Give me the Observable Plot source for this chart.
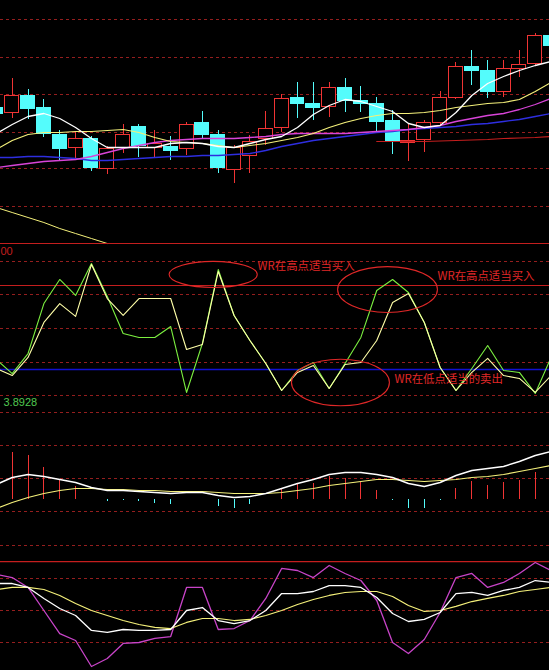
<!DOCTYPE html>
<html><head><meta charset="utf-8">
<script src="https://cdn.jsdelivr.net/npm/d3@7"></script>
<script src="https://cdn.jsdelivr.net/npm/@observablehq/plot@0.6"></script>
<style>
html,body{margin:0;padding:0;background:#000;}
#chart{width:549px;height:670px;overflow:hidden;background:#000;}
#chart svg{display:block;}
</style>
</head><body><div id="chart"></div>
<script>
// ---------- data ----------
const day = [0,1,2,3,4,5,6,7,8,9,10,11,12,13,14,15,16,17,18,19,20,21,22,23,24,25,26,27,28,29,30,31,32,33,34,35];
const open  = [9.86,9.76,10.10,9.86,9.32,9.06,9.24,8.64,9.06,9.48,9.06,9.08,9.04,9.56,9.32,8.62,8.90,9.24,9.46,10.06,9.94,9.88,10.26,10.00,9.94,9.60,9.16,9.22,9.56,10.06,10.68,10.60,10.18,10.64,10.74,11.30];
const close = [9.74,10.10,9.84,9.34,9.04,9.24,8.66,9.04,9.32,9.10,9.14,9.00,9.52,9.32,8.66,9.06,9.18,9.44,10.04,9.94,9.86,10.26,10.00,9.94,9.58,9.20,9.20,9.56,10.06,10.68,10.60,10.18,10.64,10.72,11.30,11.10];
const high  = [9.90,10.44,10.22,10.02,9.40,9.38,9.28,9.08,9.52,9.52,9.40,9.28,9.56,9.78,9.40,9.10,9.30,9.78,10.12,10.36,10.36,10.36,10.44,10.28,10.06,9.80,9.54,9.60,10.18,10.76,11.00,10.80,10.80,11.00,11.34,11.40];
const low   = [9.70,9.64,9.62,9.26,8.80,8.80,8.58,8.52,8.94,8.86,8.86,8.80,8.90,9.24,8.54,8.34,8.54,9.10,9.36,9.64,9.60,9.66,9.76,9.76,9.34,8.92,8.78,8.96,9.48,10.02,10.30,10.04,10.06,10.46,10.70,11.04];

const ma5  = [9.34,9.52,9.68,9.74,9.64,9.46,9.24,9.06,9.06,9.06,9.06,9.14,9.16,9.14,9.08,9.06,9.14,9.22,9.28,9.46,9.72,9.90,10.02,9.98,9.88,9.78,9.54,9.46,9.50,9.76,10.10,10.34,10.48,10.60,10.70,10.78];
const ma10 = [9.02,9.20,9.32,9.36,9.36,9.38,9.38,9.40,9.42,9.36,9.26,9.18,9.16,9.14,9.10,9.06,9.10,9.14,9.20,9.26,9.34,9.46,9.56,9.64,9.70,9.74,9.74,9.76,9.80,9.86,9.90,9.94,9.96,10.02,10.18,10.36];
const ma20 = [8.66,8.70,8.74,8.78,8.80,8.82,8.88,8.96,9.04,9.10,9.16,9.20,9.22,9.24,9.24,9.24,9.26,9.28,9.32,9.34,9.34,9.34,9.34,9.36,9.38,9.40,9.42,9.46,9.50,9.58,9.64,9.70,9.74,9.82,9.92,10.04];
const ma30 = [8.86,8.86,8.88,8.88,8.86,8.84,8.80,8.80,8.82,8.84,8.86,8.88,8.88,8.90,8.90,8.92,8.94,9.00,9.08,9.14,9.20,9.24,9.28,9.32,9.36,9.38,9.42,9.44,9.46,9.48,9.52,9.54,9.58,9.62,9.68,9.74];
const ma60 = [null,null,null,null,null,null,null,null,null,null,null,null,null,null,null,null,null,null,null,null,null,null,null,null,9.18,9.18,9.18,9.18,9.19,9.20,9.21,9.22,9.24,9.25,9.26,9.28];
const prevLine = [7.86,7.76,7.66,7.56,7.44,7.34,7.24,7.14,null,null,null,null,null,null,null,null,null,null,null,null,null,null,null,null,null,null,null,null,null,null,null,null,null,null,null,null];
const priceGrid = [11.62,10.86,10.12,9.36,8.64,7.88];

const wr1 = [72.9,82.9,68.6,32.9,15.7,27.1,4.3,27.9,54.3,57.1,57.1,49.3,96.4,61.4,8.6,41.4,59.3,75.7,95.0,80.7,75.0,93.6,75.7,57.1,23.6,15.7,25.0,46.4,78.6,95.0,79.3,62.9,80.7,82.1,97.1,71.4];
const wr2 = [79.3,84.3,71.4,46.4,32.9,42.1,5.0,29.3,41.4,29.3,29.3,29.3,65.7,62.1,10.0,41.4,59.3,75.7,95.0,82.1,77.1,93.6,76.4,75.0,59.3,32.1,25.7,46.4,78.6,95.0,82.1,72.1,84.3,86.4,96.4,84.3];
const wrGrid = [2.86,26.43,50.71,75,98.57];
const wrHigh = [-10,20];
const wrLow = [80];
const wrLabels = [{i:0.262,v:-4.3,text:"00"}];
const wrValueLabel = [{i:0.45,v:103.6,text:"3.8928"}];
const notes = [
  {i:16.48,v:6.4,text:"WR在高点适当买入"},
  {i:27.83,v:13.6,text:"WR在高点适当买入"},
  {i:25.12,v:87.1,text:"WR在低点适当的卖出"}
];
const rings = [
  {i:13.68,v:12.1,ri:2.78,rv:9.3},
  {i:24.68,v:22.9,ri:3.15,rv:16.4},
  {i:21.71,v:89.3,ri:3.09,rv:16.6}
];

const macd = [0.50,0.47,0.44,0.32,0.20,0.13,0,-0.02,-0.005,-0.02,-0.035,-0.05,0,0.005,-0.07,-0.09,-0.05,0,0.11,0.16,0.16,0.23,0.21,0.17,0.09,-0.01,-0.09,-0.085,-0.01,0.11,0.18,0.14,0.17,0.19,0.27,0.28];
const dif  = [0.15,0.22,0.25,0.23,0.20,0.17,0.12,0.09,0.09,0.08,0.07,0.06,0.07,0.07,0.04,0.02,0.03,0.06,0.11,0.16,0.20,0.25,0.27,0.27,0.25,0.22,0.16,0.13,0.17,0.24,0.29,0.31,0.33,0.38,0.44,0.48];
const dea  = [-0.09,-0.03,0.02,0.06,0.09,0.11,0.11,0.10,0.10,0.09,0.09,0.08,0.08,0.08,0.07,0.06,0.06,0.06,0.07,0.09,0.11,0.14,0.16,0.18,0.20,0.20,0.19,0.18,0.19,0.20,0.22,0.23,0.25,0.28,0.31,0.34];
const macdGrid = [0.87,0.54,0.21,-0.12,-0.46];

const kLine = [75.3,75.3,71.6,61.3,51.9,45.3,31.3,29.4,32.2,31.3,31.3,32.2,50.0,52.8,40.6,37.8,40.6,50.0,65.9,65.9,67.8,73.4,73.4,71.6,62.2,47.2,39.7,41.6,48.1,65.9,66.9,64.1,68.8,71.6,78.1,76.3];
const dLine = [69.7,71.6,71.6,69.7,64.1,56.6,50.0,45.3,40.6,36.9,34.1,33.1,38.8,42.5,42.5,40.6,41.6,45.3,50.0,55.6,60.3,64.1,66.9,67.8,67.8,63.1,54.7,49.1,50.0,53.8,58.4,61.3,64.1,67.8,69.7,71.6];
const jLine = [83.8,80.9,71.6,50.0,28.4,21.9,-2.5,5.0,19.1,20.0,23.8,25.6,71.6,71.6,32.2,33.1,40.6,61.3,89.4,87.5,80.9,92.2,84.7,78.1,59.4,20.0,9.7,22.8,48.1,80.9,84.7,71.6,76.3,84.7,95.0,87.5];
const kdjGrid = [80,50,20];
const kdjTop = [95.9];

// ---------- colours ----------
const C = {
  grid:"#941e1e", solid:"#c41e1e", up:"#f03434", down:"#54fcfc",
  white:"#ffffff", yellow:"#f4f07a", magenta:"#d844d8", blue:"#2e2ee0", red:"#c41e1e",
  green:"#7cf040", wrYellow:"#ffffa8", j:"#c844c8", note:"#e02828", label:"#50c850", blueRef:"#1010d0"
};

const rows = day.map((i,k)=>({i, open:open[k], close:close[k], high:high[k], low:low[k],
  ma5:ma5[k], ma10:ma10[k], ma20:ma20[k], ma30:ma30[k], ma60:ma60[k], prev:prevLine[k],
  wr1:wr1[k], wr2:wr2[k], macd:macd[k], dif:dif[k], dea:dea[k], k:kLine[k], d:dLine[k], j:jLine[k]}));

const xOpt = {domain:[0.262,34.9], axis:null};
const base = (h, y, marks) => Plot.plot({
  width:549, height:h, margin:0, marginTop:0, marginRight:0, marginBottom:0, marginLeft:0,
  x:xOpt, y:Object.assign({axis:null}, y),
  style:{background:"#000", overflow:"visible"},
  marks
});
const dashed = (vals) => Plot.ruleY(vals, {y:d=>d, stroke:C.grid, strokeWidth:1, strokeDasharray:"3,3"});
const ln = (key, color, w=1) => Plot.line(rows, {x:"i", y:key, stroke:color, strokeWidth:w, defined:d=>d[key]!=null});

const isUp = d => d.close >= d.open;

// ---------- panel 1: price ----------
const p1 = base(243, {domain:[7.14,12]}, [
  dashed(priceGrid),
  ln("prev", C.yellow),
  Plot.ruleX(rows, {x:"i", y1:"high", y2:d=>Math.max(d.open,d.close), stroke:d=>isUp(d)?C.up:C.down, shapeRendering:"crispEdges"}),
  Plot.ruleX(rows, {x:"i", y1:d=>Math.min(d.open,d.close), y2:"low", stroke:d=>isUp(d)?C.up:C.down, shapeRendering:"crispEdges"}),
  Plot.rect(rows, {x1:d=>d.i-0.44, x2:d=>d.i+0.44, y1:"open", y2:"close",
    fill:d=>isUp(d)?"#000":C.down, stroke:d=>isUp(d)?C.up:C.down, strokeWidth:1, shapeRendering:"crispEdges"}),
  ln("ma60", C.red, 1.2),
  ln("ma30", C.blue, 1.3),
  ln("ma20", C.magenta, 1.3),
  ln("ma10", C.yellow, 1.2),
  ln("ma5", C.white, 1.3)
]);

// ---------- panel 2: WR ----------
const p2 = base(167, {domain:[-10,109.2857], range:[0,167]}, [
  dashed(wrGrid),
  Plot.ruleY(wrHigh, {y:d=>d, stroke:C.solid, strokeWidth:1.2}),
  Plot.ruleY(wrLow, {y:d=>d, stroke:C.blueRef, strokeWidth:1.6}),
  ln("wr1", C.green, 1.1),
  ln("wr2", C.wrYellow, 1.1),
  Plot.text(wrLabels, {x:"i", y:"v", text:"text", textAnchor:"start", fill:C.solid, fontSize:11, fontFamily:"Liberation Sans"}),
  Plot.text(wrValueLabel, {x:"i", y:"v", text:"text", textAnchor:"start", fill:C.label, fontSize:11, fontFamily:"Liberation Sans"}),
  Plot.text(notes, {x:"i", y:"v", text:"text", textAnchor:"start", fill:C.note, fontSize:11.4, fontFamily:"Noto Sans CJK SC"})
]);
{
  const sx = p2.scale("x"), sy = p2.scale("y");
  d3.select(p2).append("g").attr("transform","translate(0.5,0.5)")
    .selectAll("ellipse").data(rings).join("ellipse")
    .attr("cx", d=>sx.apply(d.i)).attr("cy", d=>sy.apply(d.v))
    .attr("rx", d=>sx.apply(d.i+d.ri)-sx.apply(d.i))
    .attr("ry", d=>Math.abs(sy.apply(d.v+d.rv)-sy.apply(d.v)))
    .attr("fill","none").attr("stroke",C.note).attr("stroke-width",1.1);
}

// ---------- panel 3: MACD ----------
const p3 = base(143, {domain:[-0.54,0.89]}, [
  dashed(macdGrid),
  Plot.ruleX(rows, {x:"i", y1:0, y2:"macd", stroke:d=>d.macd>=0?C.up:C.down, strokeWidth:1, shapeRendering:"crispEdges"}),
  ln("dea", C.yellow, 1.2),
  ln("dif", C.white, 1.4)
]);

// ---------- panel 4: KDJ ----------
const p4 = base(117, {domain:[-6.25,103.44]}, [
  dashed(kdjGrid),
  Plot.ruleY(kdjTop, {y:d=>d, stroke:C.solid, strokeWidth:1.2}),
  ln("j", C.j, 1.3),
  ln("d", C.yellow, 1.2),
  ln("k", C.white, 1.3)
]);

const root = document.getElementById("chart");
[p1,p2,p3,p4].forEach(p=>root.appendChild(p));
</script></body></html>
